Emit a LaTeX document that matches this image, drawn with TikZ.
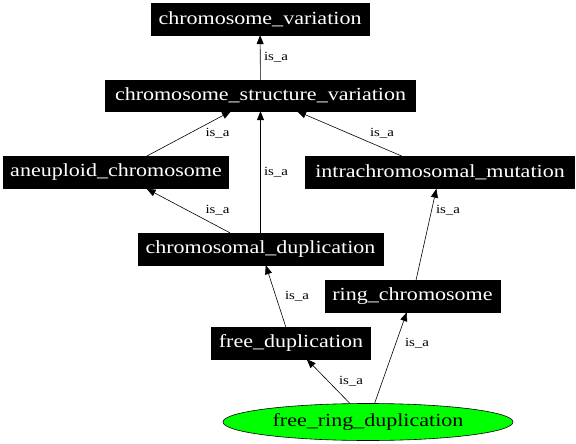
\documentclass[tikz,border=0pt]{standalone}
\usepackage{fontspec}
\setmainfont{Liberation Serif}
\newfontfamily\boxfont[FakeStretch=1.19]{Liberation Serif}
\usetikzlibrary{arrows.meta,shapes.geometric}
\tikzset{
  termbox/.style={fill=black,draw=black,text=white,inner sep=0pt,
    font=\boxfont\fontsize{18.5}{20}\selectfont},
  leafell/.style={ellipse,fill=green,draw=black,line width=0.6pt,text=black,inner sep=0pt,
    minimum width=290pt,minimum height=37pt,font=\boxfont\fontsize{18.5}{20}\selectfont},
  rel/.style={draw=black,line width=0.6pt,-{Triangle[length=9pt,width=7pt]}},
  rellabel/.style={inner sep=0pt,font=\boxfont\fontsize{12.5}{14}\selectfont}
}
\begin{document}
\begin{tikzpicture}[x=1pt,y=-1pt]
\useasboundingbox (0,0) rectangle (576,444);
\node[termbox,minimum width=218pt,minimum height=32pt] (cv) at (260,19) {chromosome\_variation};
\node[termbox,minimum width=310pt,minimum height=31pt] (csv) at (260.5,95.5) {chromosome\_structure\_variation};
\node[termbox,minimum width=225pt,minimum height=32pt] (an) at (116,172.5) {aneuploid\_chromosome};
\node[termbox,minimum width=269pt,minimum height=32pt] (im) at (440,172.5) {intrachromosomal\_mutation};
\node[termbox,minimum width=245pt,minimum height=32pt] (cd) at (260.5,249) {chromosomal\_duplication};
\node[termbox,minimum width=175pt,minimum height=32pt] (rc) at (412.5,296) {ring\_chromosome};
\node[termbox,minimum width=159pt,minimum height=32pt] (fd) at (291,343) {free\_duplication};
\node[leafell] (frd) at (368,422) {free\_ring\_duplication};

\draw[rel] (csv) -- (cv);
\draw[rel] (an) -- (csv);
\draw[rel] (cd.north) -- (cd.north |- csv.south);
\draw[rel] (im) -- (csv);
\draw[rel] (cd) -- (an);
\draw[rel] (rc) -- (im);
\draw[rel] (fd) -- (cd);
\draw[rel] (frd) -- (fd);
\draw[rel] (frd) -- (rc);

\node[rellabel] (l1) at (276,57) {is\_a};
\node[rellabel] (l2) at (217.5,133) {is\_a};
\node[rellabel] (l3) at (276,172) {is\_a};
\node[rellabel] (l4) at (382,133) {is\_a};
\node[rellabel] (l5) at (217.5,210) {is\_a};
\node[rellabel] (l6) at (448,210) {is\_a};
\node[rellabel] (l7) at (297,296) {is\_a};
\node[rellabel] (l8) at (351,381) {is\_a};
\node[rellabel] (l9) at (417,343) {is\_a};
\end{tikzpicture}
\end{document}
